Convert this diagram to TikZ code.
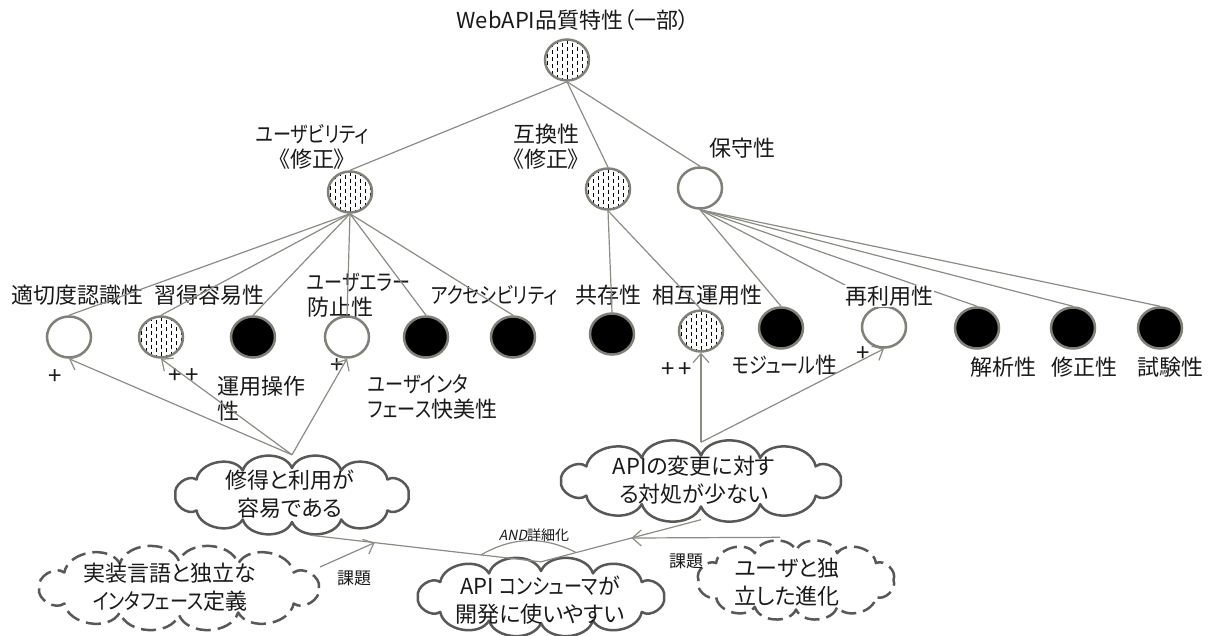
\documentclass[tikz,border=0pt]{standalone}
\usepackage{fontspec}
\setmainfont[AutoFakeSlant=0.2, RawFeature={+palt}]{Noto Sans CJK JP}
\newfontfamily\kn[RawFeature={+palt}, FakeStretch=0.82]{Noto Sans CJK JP}
\usetikzlibrary{shapes.geometric,arrows.meta,calc}

\definecolor{ringgray}{RGB}{128,128,120}
\definecolor{edgegray}{RGB}{140,140,132}
\definecolor{cloudgray}{RGB}{88,88,86}

\tikzset{
  goal/.style={ellipse, draw=ringgray, line width=2.5pt, minimum width=44pt, minimum height=41pt, inner sep=0pt, fill=white},
  blackgoal/.style={goal, fill=black},
  hatchgoal/.style={goal, path picture={
      \foreach \i [evaluate=\i as \ph using {mod(abs(\i),2)*3.5}] in {-4,...,4}{
        \draw[black, line width=0.9pt, dash pattern=on 4pt off 3pt, dash phase=\ph pt]
          ([xshift=\i*5pt]path picture bounding box.north) -- ([xshift=\i*5pt]path picture bounding box.south);}}},
  lbl/.style={font=\fontsize{22}{25}\selectfont, inner sep=0pt, align=center, text=black!90},
  plus/.style={font=\fontsize{24}{25}\selectfont, inner sep=0pt, text=black!90},
  small/.style={font=\fontsize{17}{20}\selectfont, inner sep=0pt, text=black!90},
  edge/.style={draw=edgegray, line width=1.2pt},
  arr/.style={edge, -{Straight Barb[length=9pt,width=16pt]}},
  cloudline/.style={draw=cloudgray, line width=2.5pt, fill=white, line join=round},
  dcloudline/.style={cloudline, dash pattern=on 15pt off 7pt},
  ctext/.style={align=center, inner sep=0pt, font=\fontsize{22}{28}\selectfont, text=black!90}
}

% name, cx, cy, width, height, style
\newcommand\mycloudshape[6]{%
  \node[ellipse, minimum width=#4pt, minimum height=#5pt, inner sep=0pt] (#1) at (#2,#3) {};
  \foreach \k/\ang in {0/0,1/35,2/65,3/90,4/115,5/145,6/180,7/215,8/245,9/270,10/295,11/325}{
    \coordinate (#1-p\k) at ({#2+(#4/2-6)*cos(\ang)},{#3-(#5/2-13)*sin(\ang)});
  }
  \draw[#6] (#1-p0) to[bend right=70] (#1-p1) to[bend right=70] (#1-p2) to[bend right=70] (#1-p3)
    to[bend right=70] (#1-p4) to[bend right=70] (#1-p5) to[bend right=70] (#1-p6) to[bend right=70] (#1-p7)
    to[bend right=70] (#1-p8) to[bend right=70] (#1-p9) to[bend right=70] (#1-p10) to[bend right=70] (#1-p11)
    to[bend right=70] (#1-p0);
}

\begin{document}
\begin{tikzpicture}[x=1pt,y=-1pt]
\useasboundingbox (0,0) rectangle (1211,635);
\fill[white] (0,0) rectangle (1211,635);

% top level
\node[lbl] (ttop) at (573,20) {WebAPI品質特性（一部）};
\node[hatchgoal] (top) at (567,60) {};

% second level
\node[hatchgoal] (us) at (350,192) {};
\node[lbl] (tus) at (312,147) {{\kn ユーザビリティ}\\《修正》};
\node[hatchgoal] (co) at (608,189) {};
\node[lbl] (tco) at (546,147) {互換性\\《修正》};
\node[goal] (ma) at (700,188) {};
\node[lbl] (tma) at (742,148) {保守性};

% leaves
\node[goal] (l1) at (69,337) {};
\node[hatchgoal] (l2) at (161,337) {};
\node[blackgoal] (l3) at (253,337) {};
\node[goal] (l4) at (347,337) {};
\node[blackgoal] (l5) at (426,337) {};
\node[blackgoal] (l6) at (513,337) {};
\node[blackgoal] (l7) at (612,334) {};
\node[hatchgoal] (l8) at (701,331) {};
\node[blackgoal] (l9) at (781,328) {};
\node[goal] (l10) at (884,327) {};
\node[blackgoal] (l11) at (977,328) {};
\node[blackgoal] (l12) at (1073,328) {};
\node[blackgoal] (l13) at (1160,328) {};

% leaf labels
\node[lbl] (t1) at (78,295) {適切度認識性};
\node[lbl] (t2) at (209,295) {習得容易性};
\node[lbl, align=left, anchor=west] (t4) at (307,295.5) {{\kn ユーザエラー}\\防止性};
\node[lbl] (t6) at (494,295) {\kn アクセシビリティ};
\node[lbl] (t7) at (608,295) {共存性};
\node[lbl] (t8) at (707,295) {相互運用性};
\node[lbl] (t9) at (785,365) {{\kn モジュール}性};
\node[lbl] (t11) at (1003,367) {解析性};
\node[lbl] (t12) at (1084,367) {修正性};
\node[lbl] (t13) at (1170,367) {試験性};
\node[lbl, align=left, anchor=west] (t3) at (217,399) {運用操作\\性};
\node[lbl, align=left, anchor=west] (t5) at (368,396.5) {{\kn ユーザインタ}\\{\kn フェース}快美性};

% contribution labels
\node[plus] (p1) at (55,377) {+};
\node[plus] (p2) at (184,376) {+{\kern4pt}+};
\node[plus] (p4) at (337,366) {+};
\node[plus] (p8) at (677,370) {+{\kern4pt}+};
\node[plus] (p10) at (863,354) {+};

% decomposition edges
\foreach \c in {us,co,ma} \draw[edge] (top.south) -- (\c.north);
\foreach \c in {l1,l2,l3,l4,l5,l6} \draw[edge] (us.south) -- (\c.north);
\foreach \c in {l7,l8} \draw[edge] (co.south) -- (\c.north);
\foreach \c in {l9,l10,l11,l12,l13} \draw[edge] (ma.south) -- (\c.north);

% label of reuse hides its edge
\node[lbl, fill=white, inner sep=1pt] (t10) at (889,296) {再利用性};

% clouds
\mycloudshape{ca}{292}{495}{245}{80}{cloudline}
\node[ctext] (tca) at (290,494) {修得と利用が\\容易である};
\mycloudshape{cb}{701}{481}{292}{77}{cloudline}
\node[ctext] (tcb) at (694,480) {APIの変更に対す\\る対処が少ない};
\mycloudshape{cc}{541}{597}{258}{78}{cloudline}
\node[ctext] (tcc) at (540,600) {API {\kn コンシューマ}が\\開発に使いやすい};
\mycloudshape{cd}{179}{588}{292}{80}{dcloudline}
\node[ctext] (tcd) at (170,587) {実装言語と独立な\\{\kn インタフェース}定義};
\mycloudshape{ce}{796}{580}{207}{85}{dcloudline}
\node[ctext] (tce) at (787,582) {ユーザと独\\立した進化};

% contribution arrows
\foreach \c in {l1,l2,l4} \draw[arr] (ca.north) -- (\c.south);
\foreach \c in {l8,l10} \draw[arr] (cb.north) -- (\c.south);

% AND refinement
\coordinate (cs) at ([yshift=-4pt]cc.north);
\coordinate (ae) at ([xshift=18pt]ca.south);
\coordinate (be) at (cb.south);
\draw[edge] (cs) -- (ae);
\draw[edge] (cs) -- (be);
\coordinate (and1) at ($(cs)!0.26!(ae)$);
\coordinate (and2) at ($(cs)!0.22!(be)$);
\draw[edge] (and1) to[bend left=28] (and2);
\node[font=\fontsize{14}{16}\selectfont, inner sep=0pt, text=black!90] (tand) at (534,535) {\textit{AND}詳細化};

% obstacles
\coordinate (ta) at ($(cs)!0.72!(ae)$);
\coordinate (tb) at ($(cs)!0.565!(be)$);
\coordinate (ds) at ($(cd)+(141,-21)$);
\coordinate (es) at ([xshift=-16pt]ce.north);
\draw[arr] (ds) -- (ta);
\draw[arr] (es) -- (tb);
\node[small] (k1) at (354,578) {課題};
\node[small] (k2) at (686,561) {課題};
\end{tikzpicture}
\end{document}
